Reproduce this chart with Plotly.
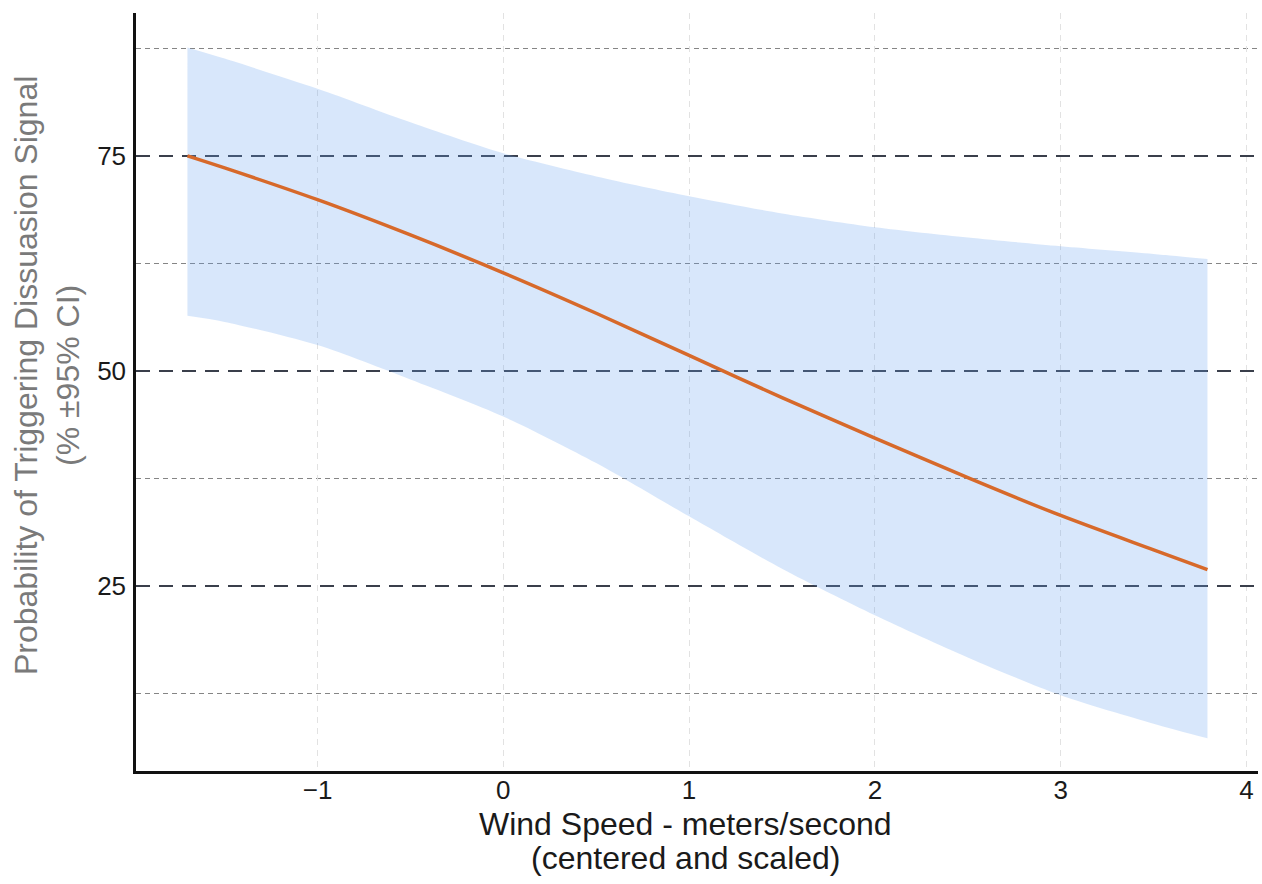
import plotly.graph_objects as go

# Wind speed (centered and scaled) and model predictions with 95% CI, in %
wind_speed = [-1.70, -1.5, -1.0, -0.5, 0.0, 0.5, 1.0, 1.5, 2.0, 2.5, 3.0, 3.5, 3.79]
prob_fit = [75.0, 73.6, 69.9, 65.8, 61.4, 56.7, 51.8, 46.9, 42.2, 37.6, 33.2, 29.2, 26.9]
ci_upper = [87.6, 86.3, 82.8, 78.9, 75.3, 72.6, 70.3, 68.3, 66.7, 65.5, 64.5, 63.6, 63.0]
ci_lower = [56.4, 55.7, 53.0, 49.0, 44.7, 39.3, 33.1, 27.0, 21.6, 16.7, 12.3, 9.0, 7.3]

x_ticks = [-1, 0, 1, 2, 3, 4]
x_tick_text = ["\u22121", "0", "1", "2", "3", "4"]
y_ticks = [25, 50, 75]

x_title_lines = ["Wind Speed - meters/second", "(centered and scaled)"]
y_title = "Probability of Triggering Dissuasion Signal<br>(% \u00b195% CI)"

FONT = "Liberation Sans, Arial, sans-serif"

fig = go.Figure()

# confidence ribbon
fig.add_trace(go.Scatter(
    x=wind_speed, y=ci_lower, mode="lines",
    line=dict(width=0, shape="spline", smoothing=0.8),
    hoverinfo="skip", showlegend=False,
))
fig.add_trace(go.Scatter(
    x=wind_speed, y=ci_upper, mode="lines", fill="tonexty",
    fillcolor="rgba(100,160,240,0.25)",
    line=dict(width=0, shape="spline", smoothing=0.8),
    hoverinfo="skip", showlegend=False,
))
# fitted probability
fig.add_trace(go.Scatter(
    x=wind_speed, y=prob_fit, mode="lines",
    line=dict(color="#D7692A", width=3.5, shape="spline", smoothing=0.8),
    showlegend=False,
))

fig.update_layout(
    width=1262, height=884,
    margin=dict(l=136, r=4, t=13, b=113),
    paper_bgcolor="white", plot_bgcolor="white",
    font=dict(family=FONT, color="#1a1a1a"),
)

fig.update_xaxes(
    range=[-1.977, 4.062],
    tickvals=x_ticks, ticktext=x_tick_text,
    tickfont=dict(size=26, color="#1a1a1a"),
    ticks="", ticklabelstandoff=-6,
    showgrid=True, gridcolor="#e2e2e2", gridwidth=1, griddash="6px,5px",
    zeroline=False,
    showline=True, linecolor="#111111", linewidth=2.5,
)

fig.update_yaxes(
    range=[3.5, 91.6],
    tickvals=y_ticks,
    tickfont=dict(size=26, color="#1a1a1a"),
    ticks="outside", ticklen=2, tickcolor="rgba(0,0,0,0)",
    showgrid=True, gridcolor="#3a3f4b", gridwidth=1.6, griddash="14px,9px",
    minor=dict(tickvals=[12.5, 37.5, 62.5, 87.5], showgrid=True,
               gridcolor="#858585", gridwidth=1.2, griddash="5px,4px"),
    zeroline=False,
    showline=True, linecolor="#111111", linewidth=2.5,
)

# axis titles
fig.add_annotation(
    text=x_title_lines[0], xref="paper", yref="paper",
    x=0.490, y=-0.0700, xanchor="center", yanchor="middle",
    showarrow=False, font=dict(size=32, color="#1a1a1a", family=FONT),
)
fig.add_annotation(
    text=x_title_lines[1], xref="paper", yref="paper",
    x=0.490, y=-0.1145, xanchor="center", yanchor="middle",
    showarrow=False, font=dict(size=32, color="#1a1a1a", family=FONT),
)
fig.add_annotation(
    text=y_title, xref="paper", yref="paper",
    x=-0.0793, y=0.521, xanchor="center", yanchor="middle",
    textangle=-90, showarrow=False,
    font=dict(size=32, color="#7a7a7a", family=FONT),
)

fig.write_html("out.html")
